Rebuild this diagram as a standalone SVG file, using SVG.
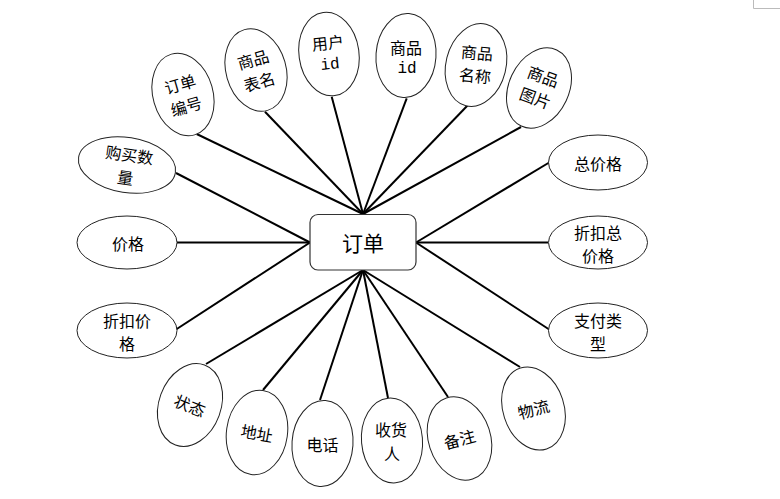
<svg xmlns="http://www.w3.org/2000/svg" width="780" height="499" viewBox="0 0 780 499">
<style>
.e{fill:#fff;stroke:#222;stroke-width:1}
.t{font-family:"Noto Sans CJK SC","Noto Sans",sans-serif;font-size:16px;fill:#000;text-anchor:middle;dominant-baseline:central}
.m{font-family:"Liberation Mono",monospace;font-size:16px}
.c line{stroke:#000;stroke-width:2}
.mark{stroke:#bbb;stroke-width:1;fill:none}
</style>
<rect width="780" height="499" fill="#fff"/>
<path class="mark" d="M753.5 0V8.5H780"/>
<g id="connectors" class="c">
<line x1="196.7" y1="134" x2="363" y2="214"/>
<line x1="265" y1="111.7" x2="363" y2="214"/>
<line x1="331.7" y1="96.7" x2="363" y2="214"/>
<line x1="406.7" y1="98.3" x2="363" y2="214"/>
<line x1="468" y1="105" x2="363" y2="214"/>
<line x1="521" y1="127" x2="363" y2="214"/>
<line x1="176" y1="173" x2="310" y2="242.5"/>
<line x1="177" y1="242.5" x2="310" y2="242.5"/>
<line x1="176" y1="329.5" x2="310" y2="242.5"/>
<line x1="550" y1="162" x2="416" y2="242.5"/>
<line x1="548" y1="242.5" x2="416" y2="242.5"/>
<line x1="550" y1="330" x2="416" y2="242.5"/>
<line x1="206" y1="364" x2="363" y2="270"/>
<line x1="263" y1="390" x2="363" y2="270"/>
<line x1="320" y1="400" x2="363" y2="270"/>
<line x1="388" y1="398" x2="363" y2="270"/>
<line x1="448" y1="397" x2="363" y2="270"/>
<line x1="520" y1="367" x2="363" y2="270"/>
</g>
<g id="order">
<rect x="310" y="214.5" width="106" height="55.5" rx="8" fill="#fff" stroke="#333" stroke-width="1.2"/>
<text class="t" x="363" y="242" style="font-size:21px">订单</text>
</g>
<g id="n-order-no" transform="translate(183,94.5)">
<ellipse class="e" rx="30" ry="42" transform="rotate(-16)"/>
<text class="t" transform="rotate(-16)"><tspan x="0" y="-11.5">订单</tspan><tspan x="0" y="11.5">编号</tspan></text>
</g>
<g id="n-table-name" transform="translate(256,70)">
<ellipse class="e" rx="30" ry="42" transform="rotate(-16)"/>
<text class="t" transform="rotate(-16)"><tspan x="0" y="-11.5">商品</tspan><tspan x="0" y="11.5">表名</tspan></text>
</g>
<g id="n-user-id" transform="translate(329,54)">
<ellipse class="e" rx="30" ry="42" transform="rotate(-8)"/>
<text class="t" transform="rotate(-6)"><tspan x="0" y="-12">用户</tspan><tspan class="m" x="0" y="11">id</tspan></text>
</g>
<g id="n-goods-id" transform="translate(406,55.5)">
<ellipse class="e" rx="30" ry="42" transform="rotate(4)"/>
<text class="t"><tspan x="0" y="-9">商品</tspan><tspan class="m" x="1" y="13">id</tspan></text>
</g>
<g id="n-goods-name" transform="translate(476,65)">
<ellipse class="e" rx="30" ry="42" transform="rotate(14)"/>
<text class="t" transform="rotate(5)"><tspan x="0" y="-13">商品</tspan><tspan x="0" y="10">名称</tspan></text>
</g>
<g id="n-goods-img" transform="translate(539,88)">
<ellipse class="e" rx="30" ry="42" transform="rotate(25)"/>
<text class="t" transform="rotate(20)"><tspan x="0" y="-13">商品</tspan><tspan x="0" y="10">图片</tspan></text>
</g>
<g id="n-qty" transform="translate(127,165)">
<ellipse class="e" rx="49" ry="27.5" transform="rotate(9)"/>
<text class="t" transform="rotate(8)"><tspan x="1" y="-11">购买数</tspan><tspan x="0" y="12">量</tspan></text>
</g>
<g id="n-price" transform="translate(127,242.5)">
<ellipse class="e" rx="50" ry="26.5"/>
<text class="t" x="1" y="0">价格</text>
</g>
<g id="n-disc-price" transform="translate(127,330.5)">
<ellipse class="e" rx="50" ry="27.5"/>
<text class="t"><tspan x="0" y="-11">折扣价</tspan><tspan x="0" y="12">格</tspan></text>
</g>
<g id="n-total" transform="translate(598,162.5)">
<ellipse class="e" rx="49.5" ry="27.5"/>
<text class="t" x="0" y="0">总价格</text>
</g>
<g id="n-disc-total" transform="translate(598,242.5)">
<ellipse class="e" rx="49.5" ry="26.5"/>
<text class="t"><tspan x="0" y="-11">折扣总</tspan><tspan x="0" y="12">价格</tspan></text>
</g>
<g id="n-pay-type" transform="translate(598,330.5)">
<ellipse class="e" rx="49.5" ry="27.5"/>
<text class="t"><tspan x="0" y="-11">支付类</tspan><tspan x="0" y="12">型</tspan></text>
</g>
<g id="n-status" transform="translate(190,405)">
<ellipse class="e" rx="31" ry="42.5" transform="rotate(20)"/>
<text class="t" transform="rotate(22)" x="0" y="0">状态</text>
</g>
<g id="n-address" transform="translate(257,432.5)">
<ellipse class="e" rx="30.5" ry="42.5" transform="rotate(8)"/>
<text class="t" transform="rotate(10)" x="0" y="0">地址</text>
</g>
<g id="n-phone" transform="translate(322.5,443.5)">
<ellipse class="e" rx="30.5" ry="43" transform="rotate(4)"/>
<text class="t" x="0" y="0">电话</text>
</g>
<g id="n-receiver" transform="translate(392,440.5)">
<ellipse class="e" rx="30.5" ry="42.5" transform="rotate(-5)"/>
<text class="t"><tspan x="-1" y="-11.5">收货</tspan><tspan x="0" y="12">人</tspan></text>
</g>
<g id="n-remark" transform="translate(459.5,438.5)">
<ellipse class="e" rx="31" ry="42.5" transform="rotate(-18)"/>
<text class="t" transform="rotate(-15)" x="0" y="0">备注</text>
</g>
<g id="n-logistics" transform="translate(533.5,408.5)">
<ellipse class="e" rx="30.5" ry="42.5" transform="rotate(-18)"/>
<text class="t" transform="rotate(-15)" x="0" y="0">物流</text>
</g>
</svg>
